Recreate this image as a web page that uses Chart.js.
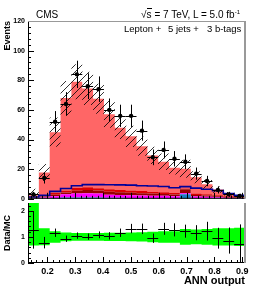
<!DOCTYPE html>
<html>
<head>
<meta charset="utf-8">
<script src="https://cdn.jsdelivr.net/npm/chart.js@4.4.1/dist/chart.umd.min.js"></script>
<style>
  body { margin: 0; background: #fff; }
  #wrap { position: relative; width: 258px; height: 290px; font-family: "Liberation Sans", Arial, sans-serif; }
  canvas { position: absolute; left: 0; }
  .t { position: absolute; font-size: 10px; line-height: 10px; color: #000; white-space: nowrap; }
</style>
</head>
<body>
<div id="wrap">
  <canvas id="mainChart" width="258" height="206" style="top:0"></canvas>
  <canvas id="ratioChart" width="258" height="95" style="top:195px"></canvas>
  <div class="t" style="left:36px;top:10px">CMS</div>
  <div class="t" style="right:18px;top:10px">√<span style="border-top:1px solid #000">s</span> = 7 TeV, L = 5.0 fb<span style="font-size:6px;position:relative;top:-4px">-1</span></div>
  <div class="t" style="left:0;top:24px;font-size:9.5px">
    <span style="position:absolute;left:124px">Lepton +</span>
    <span style="position:absolute;left:168px">5 jets +</span>
    <span style="position:absolute;left:207px">3 b-tags</span>
  </div>
</div>
<script>
// ANN output binning (20 bins)
const binEdges = [0.13, 0.169, 0.208, 0.247, 0.286, 0.325, 0.364, 0.403, 0.442, 0.481, 0.52,
                  0.559, 0.598, 0.637, 0.676, 0.715, 0.754, 0.793, 0.832, 0.871, 0.91];
const xTickLabels = [0.2, 0.3, 0.4, 0.5, 0.6, 0.7, 0.8, 0.9];

// data
const dataEvents = [3, 14, 52, 64, 84, 76, 74, 60, 56, 56, 46, 28, 33, 27, 25, 17, 12, 6, 3, 2];
const dataErr = [1.7, 3.7, 7.2, 8, 9.2, 8.7, 8.6, 7.7, 7.5, 7.5, 6.8, 5.3, 5.7, 5.2, 5, 4.1, 3.5, 2.4, 1.7, 1.4];

// stacked backgrounds, bottom to top
const bkgBlue    = [0.3, 0.4, 0.6, 0.8, 0.9, 0.9, 0.8, 0.7, 0.7, 0.6, 0.6, 0.6, 0.5, 0.5, 3.0, 0.5, 0.4, 0.3, 0.2, 0.2];
const bkgMagenta = [0.2, 0.5, 1.2, 2.2, 2.7, 2.9, 2.7, 2.1, 1.9, 1.8, 1.6, 1.5, 1.5, 1.3, 0.8, 1.1, 0.9, 0.7, 0.5, 0.3];
const bkgMaroon  = [0.2, 0.4, 1.0, 1.2, 1.9, 2.2, 2.1, 2.0, 1.8, 1.7, 1.6, 1.4, 1.2, 1.1, 2.6, 1.0, 0.9, 0.7, 0.5, 0.4];
const bkgRed     = [0.2, 0.4, 1.2, 1.4, 1.9, 1.8, 1.6, 1.6, 1.5, 1.5, 1.4, 1.3, 1.2, 1.1, 0.6, 1.0, 0.8, 0.7, 0.5, 0.3];
const bkgSalmon  = [1.5, 16.0, 41.0, 62.4, 71.6, 66.7, 60.3, 50.6, 42.1, 36.6, 30.3, 24.5, 20.6, 17.0, 13.3, 10.9, 6.8, 3.8, 1.7, 1.1];

// outlined (not stacked) histogram
const signalLine = [1.2, 2.3, 5.0, 7.0, 8.8, 9.6, 9.6, 9.5, 9.4, 9.2, 8.8, 8.6, 8.3, 7.5, 8.2, 7.2, 6.4, 5.5, 3.6, 2.4];

// relative MC uncertainty (up / down)
const mcErrUp   = [1.8, 0.33, 0.22, 0.17, 0.15, 0.15, 0.15, 0.16, 0.16, 0.17, 0.18, 0.2, 0.22, 0.22, 0.3, 0.28, 0.3, 0.33, 0.33, 0.35];
const mcErrDown = [0.33, 0.32, 0.22, 0.17, 0.15, 0.15, 0.15, 0.16, 0.16, 0.17, 0.18, 0.2, 0.22, 0.22, 0.3, 0.28, 0.3, 0.33, 0.33, 0.35];

// ratio panel
const ratioVals = [1.27, 0.78, 1.16, 0.93, 1.05, 1.01, 1.08, 1.04, 1.16, 1.32, 1.31, 0.95, 1.31, 1.27, 1.22, 1.16, 1.22, 0.95, 0.86, 0.74];
const ratioErr  = [0.72, 0.22, 0.16, 0.12, 0.12, 0.12, 0.13, 0.14, 0.16, 0.18, 0.2, 0.18, 0.23, 0.25, 0.25, 0.29, 0.36, 0.4, 0.5, 0.74];

Chart.defaults.font.family = '"Liberation Sans", Arial, sans-serif';
Chart.defaults.color = '#000';

const centers = binEdges.slice(0, -1).map((e, i) => (e + binEdges[i + 1]) / 2);
const mcTotal = bkgSalmon.map((v, i) => v + bkgBlue[i] + bkgMagenta[i] + bkgMaroon[i] + bkgRed[i]);

// histogram as step line: one point per left edge plus the last edge
function steps(vals) {
  const pts = vals.map((v, i) => ({ x: binEdges[i], y: v }));
  pts.push({ x: binEdges[vals.length], y: vals[vals.length - 1] });
  return pts;
}

// hatch pattern for MC uncertainty
const hc = document.createElement('canvas');
hc.width = 7; hc.height = 7;
const hctx = hc.getContext('2d');
hctx.strokeStyle = '#000';
hctx.lineWidth = 0.8;
hctx.beginPath();
hctx.moveTo(0, 7); hctx.lineTo(7, 0);
hctx.moveTo(-1, 1); hctx.lineTo(1, -1);
hctx.moveTo(6, 8); hctx.lineTo(8, 6);
hctx.stroke();
const hatch = hctx.createPattern(hc, 'repeat');

// error bars: horizontal = bin width, vertical = errY
const errorBars = {
  id: 'errorBars',
  afterDatasetsDraw(chart) {
    const { ctx, chartArea: a } = chart;
    ctx.save();
    ctx.beginPath();
    ctx.rect(a.left, a.top, a.right - a.left, a.bottom - a.top);
    ctx.clip();
    ctx.strokeStyle = '#000';
    ctx.lineWidth = 1;
    chart.data.datasets.forEach(ds => {
      if (!ds.errY) return;
      const xs = chart.scales.x, ys = chart.scales.y;
      ds.data.forEach((p, i) => {
        const x0 = xs.getPixelForValue(binEdges[i]);
        const x1 = xs.getPixelForValue(binEdges[i + 1]);
        const xc = Math.round(xs.getPixelForValue(p.x)) + 0.5;
        const yc = Math.round(ys.getPixelForValue(p.y)) + 0.5;
        ctx.beginPath();
        ctx.moveTo(x0, yc); ctx.lineTo(x1, yc);
        ctx.moveTo(xc, ys.getPixelForValue(p.y + ds.errY[i]));
        ctx.lineTo(xc, ys.getPixelForValue(p.y - ds.errY[i]));
        ctx.stroke();
      });
    });
    ctx.restore();
  }
};

// ROOT-like frame with inward ticks
const frame = {
  id: 'frame',
  afterDraw(chart, args, opts) {
    const { ctx, chartArea: a, scales: { x, y } } = chart;
    ctx.save();
    ctx.strokeStyle = '#000';
    ctx.lineWidth = 1;
    ctx.beginPath();
    for (let k = 0; k * opts.ySub <= y.max + 1e-9; k++) {
      const py = Math.round(y.getPixelForValue(k * opts.ySub)) + 0.5;
      const len = k % 5 === 0 ? 6 : 3;
      ctx.moveTo(a.left, py); ctx.lineTo(a.left + len, py);
    }
    for (let k = 7; k <= 45; k++) {
      const px = Math.round(x.getPixelForValue(k * 0.02)) + 0.5;
      const len = k % 5 === 0 ? 6 : 3;
      ctx.moveTo(px, a.bottom); ctx.lineTo(px, a.bottom - len);
    }
    ctx.moveTo(a.left + 0.5, a.top); ctx.lineTo(a.left + 0.5, a.bottom);
    ctx.moveTo(a.left, a.bottom - 0.5); ctx.lineTo(a.right, a.bottom - 0.5);
    ctx.stroke();
    ctx.strokeStyle = '#999';
    ctx.lineWidth = 2;
    ctx.beginPath();
    ctx.moveTo(a.right, a.top); ctx.lineTo(a.right, a.bottom);
    ctx.stroke();
    if (opts.top) {
      ctx.lineWidth = 1;
      ctx.beginPath();
      ctx.moveTo(a.left, a.top + 0.5); ctx.lineTo(a.right, a.top + 0.5);
      ctx.stroke();
    }
    ctx.restore();
  }
};

const area = (label, vals, color, fill) => ({
  label, data: steps(vals), stepped: 'before', fill,
  backgroundColor: color, borderColor: 'transparent', borderWidth: 0,
  pointRadius: 0, stack: 'mc', order: 3
});

new Chart(document.getElementById('mainChart'), {
  type: 'line',
  data: {
    datasets: [
      area('blue', bkgBlue, '#1a7fc4', 'origin'),
      area('magenta', bkgMagenta, '#ff00ff', '-1'),
      area('maroon', bkgMaroon, '#990000', '-1'),
      area('red', bkgRed, '#dd0000', '-1'),
      area('salmon', bkgSalmon, '#ff6666', '-1'),
      {
        label: 'signal', data: steps(signalLine), stepped: 'before', fill: false,
        borderColor: '#000099', borderWidth: 1.6, pointRadius: 0, stack: 'sig', order: 2
      },
      {
        label: 'mcHi', data: steps(mcTotal.map((v, i) => v * (1 + mcErrUp[i]))), stepped: 'before',
        fill: false, borderColor: 'transparent', borderWidth: 0, pointRadius: 0, stack: 'hi', order: 1
      },
      {
        label: 'mcLo', data: steps(mcTotal.map((v, i) => v * (1 - mcErrDown[i]))), stepped: 'before',
        fill: '-1', backgroundColor: hatch, borderColor: 'transparent', borderWidth: 0,
        pointRadius: 0, stack: 'lo', order: 1
      },
      {
        label: 'data', data: centers.map((c, i) => ({ x: c, y: dataEvents[i] })), showLine: false,
        pointRadius: 2.2, pointBackgroundColor: '#000', pointBorderWidth: 0,
        stack: 'data', order: 0, errY: dataErr
      }
    ]
  },
  options: {
    responsive: false,
    animation: false,
    events: [],
    layout: { padding: { left: 0, right: 13, top: 21, bottom: 3 } },
    scales: {
      x: { type: 'linear', min: 0.13, max: 0.91, display: false },
      y: {
        stacked: true, min: 0, max: 120,
        ticks: { stepSize: 20, padding: 3, font: { size: 7, weight: 'bold' } },
        grid: { display: false, drawTicks: false },
        border: { display: false },
        title: { display: true, text: 'Events', align: 'end', font: { size: 9, weight: 'bold' }, padding: { top: 2, bottom: 0 } },
        afterFit: s => { s.width = 28; }
      }
    },
    plugins: { legend: { display: false }, tooltip: { enabled: false }, frame: { ySub: 4, top: true } }
  },
  plugins: [errorBars, frame]
});

new Chart(document.getElementById('ratioChart'), {
  type: 'line',
  data: {
    datasets: [
      {
        label: 'bandHi', data: steps(mcErrUp.map(e => 1 + e)), stepped: 'before', fill: false,
        borderColor: 'transparent', borderWidth: 0, pointRadius: 0
      },
      {
        label: 'bandLo', data: steps(mcErrDown.map(e => 1 - e)), stepped: 'before', fill: '-1',
        backgroundColor: '#00ff00', borderColor: 'transparent', borderWidth: 0, pointRadius: 0
      },
      {
        label: 'unity', data: [{ x: binEdges[0], y: 1 }, { x: binEdges[binEdges.length - 1], y: 1 }],
        borderColor: '#000', borderWidth: 1, pointRadius: 0, fill: false
      },
      {
        label: 'ratio', data: centers.map((c, i) => ({ x: c, y: ratioVals[i] })), showLine: false,
        pointRadius: 0, errY: ratioErr
      }
    ]
  },
  options: {
    responsive: false,
    animation: false,
    events: [],
    layout: { padding: { left: 0, right: 13, top: 8, bottom: 0 } },
    scales: {
      x: {
        type: 'linear', min: 0.13, max: 0.91,
        afterBuildTicks: s => { s.ticks = xTickLabels.map(v => ({ value: v })); },
        ticks: { padding: 3, font: { size: 9, weight: 'bold' }, callback: v => v.toFixed(1), maxRotation: 0, autoSkip: false },
        grid: { display: false, drawTicks: false },
        border: { display: false },
        title: { display: true, text: 'ANN output', align: 'end', font: { size: 11, weight: 'bold' }, padding: { top: 0, bottom: 2 } },
        afterFit: s => { s.height = 27; }
      },
      y: {
        min: 0, max: 2.3,
        afterBuildTicks: s => { s.ticks = [0, 1, 2].map(v => ({ value: v })); },
        ticks: { padding: 3, font: { size: 7, weight: 'bold' } },
        grid: { display: false, drawTicks: false },
        border: { display: false },
        title: { display: true, text: 'Data/MC', align: 'center', font: { size: 9, weight: 'bold' }, padding: { top: 2, bottom: 0 } },
        afterFit: s => { s.width = 28; }
      }
    },
    plugins: { legend: { display: false }, tooltip: { enabled: false }, frame: { ySub: 0.2, top: false } }
  },
  plugins: [errorBars, frame]
});
</script>
</body>
</html>
